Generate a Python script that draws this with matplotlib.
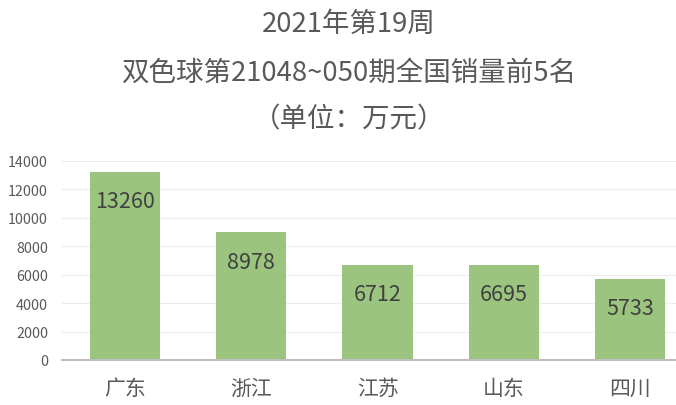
import matplotlib
matplotlib.use("Agg")
import matplotlib.pyplot as plt

plt.rcParams['font.family'] = ['Noto Sans CJK SC', 'DejaVu Sans']

provinces = ['广东', '浙江', '江苏', '山东', '四川']
sales = [13260, 8978, 6712, 6695, 5733]
yticks = [0, 2000, 4000, 6000, 8000, 10000, 12000, 14000]
title_lines = ['2021年第19周', '双色球第21048~050期全国销量前5名', '（单位：万元）']
title_y = [24, 73, 120]  # pixel centres from the top

W, H = 676, 406
fig = plt.figure(figsize=(W / 100, H / 100), dpi=100)
# axes spans a bit past the right edge, like the original
ax = fig.add_axes([62 / W, 45 / H, 631 / W, 199 / H])

bars = ax.bar(range(len(provinces)), sales, width=0.555, color='#9bc47e', zorder=2)
ax.set_xlim(-0.5, len(provinces) - 0.5)
ax.set_ylim(0, 14000)
ax.set_yticks(yticks)
ax.set_yticklabels([str(v) for v in yticks], fontsize=10.3, color='#595959')
ax.set_xticks(range(len(provinces)))
ax.set_xticklabels(provinces, fontsize=15, color='#595959')
ax.tick_params(axis='both', length=0)
ax.tick_params(axis='x', pad=12)
ax.tick_params(axis='y', pad=10)
ax.grid(axis='y', color='#ececec', linewidth=0.8, zorder=0)
for s in ['top', 'right', 'left']:
    ax.spines[s].set_visible(False)
ax.spines['bottom'].set_color('#bfbfbf')
ax.spines['bottom'].set_linewidth(1.5)
ax.spines['bottom'].set_zorder(3)

for b, v in zip(bars, sales):
    ax.annotate(str(v), (b.get_x() + b.get_width() / 2, v), xytext=(0, -21),
                textcoords='offset points', ha='center', va='center',
                fontsize=15.5, color='#404040', zorder=4)

# titles sit slightly right of the figure centre in the original
for line, yp in zip(title_lines, title_y):
    fig.text(349 / W, 1 - yp / H, line, ha='center', va='center',
             fontsize=19.8, color='#595959')

fig.savefig('out.png', dpi=100)
